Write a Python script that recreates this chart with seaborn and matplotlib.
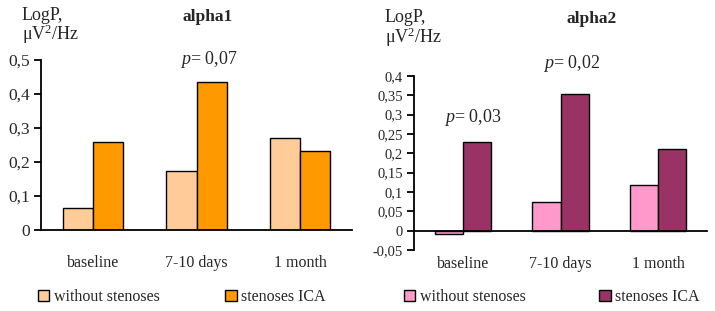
import matplotlib.pyplot as plt
import pandas as pd
import seaborn as sns
from matplotlib.patches import Patch
from matplotlib.ticker import FuncFormatter, MultipleLocator, FixedLocator

# Data
periods = ["baseline", "7-10 days", "1 month"]
groups = ["without stenoses", "stenoses ICA"]

alpha1_without = [0.066, 0.175, 0.27]
alpha1_ica = [0.258, 0.436, 0.232]
alpha2_without = [-0.009, 0.075, 0.118]
alpha2_ica = [0.23, 0.353, 0.21]

colors1 = ["#FFCC99", "#FF9900"]
colors2 = ["#FF99CC", "#993366"]


def long_df(without, ica):
    return pd.DataFrame({
        "period": periods * 2,
        "group": [groups[0]] * 3 + [groups[1]] * 3,
        "value": without + ica,
    })


sns.set_style("white")
plt.rcParams["font.family"] = ["Liberation Serif", "DejaVu Serif"]
plt.rcParams["mathtext.fontset"] = "custom"
plt.rcParams["mathtext.rm"] = "Liberation Serif"
plt.rcParams["mathtext.it"] = "Liberation Serif:italic"


def comma(x, p):
    s = f"{x:.2f}".rstrip("0").rstrip(".")
    if s in ("-0", "0"):
        s = "0"
    return s.replace(".", ",")


fig = plt.figure(figsize=(7.15, 3.11), dpi=100)
ax1 = fig.add_axes([41 / 715, 1 - 230 / 311, 311 / 715, 170 / 311])
ax2 = fig.add_axes([414 / 715, 1 - 250 / 311, 293 / 715, 174 / 311])

panels = [
    (ax1, long_df(alpha1_without, alpha1_ica), colors1, (0, 0.5), 0.1, 12.5),
    (ax2, long_df(alpha2_without, alpha2_ica), colors2, (-0.05, 0.4), 0.05, 10.5),
]

for ax, df, colors, ylim, step, yfs in panels:
    sns.barplot(df, x="period", y="value", hue="group", palette=colors,
                width=0.58, edgecolor="black", linewidth=1, ax=ax,
                legend=False, saturation=1)
    ax.set_xlim(-0.5, 2.5)
    ax.set_ylim(*ylim)
    ax.yaxis.set_major_locator(MultipleLocator(step))
    ax.yaxis.set_major_formatter(FuncFormatter(comma))
    ax.set_xlabel(None)
    ax.set_ylabel(None)
    for s in ["top", "right"]:
        ax.spines[s].set_visible(False)
    for s in ["left", "bottom"]:
        ax.spines[s].set_color("black")
        ax.spines[s].set_linewidth(1.3)
    ax.spines["bottom"].set_position(("data", 0))
    ax.xaxis.set_minor_locator(FixedLocator([-0.5, 0.5, 1.5, 2.5]))
    ax.tick_params(axis="x", which="major", length=0, pad=18, labelsize=11.5)
    ax.tick_params(axis="x", which="minor", length=5, width=1.3, direction="out", color="black")
    ax.tick_params(axis="y", length=5, width=1.3, direction="out", color="black",
                   labelsize=yfs, pad=3, left=True)
    handles = [Patch(facecolor=c, edgecolor="black", linewidth=1) for c in colors]
    ax.legend(handles, groups, loc="lower left", ncol=2, frameon=False,
              handlelength=0.7, handleheight=0.7, handletextpad=0.3,
              borderpad=0, borderaxespad=0, fontsize=11.5,
              columnspacing=4.1 if ax is ax1 else 4.6,
              bbox_to_anchor=(38 / 715 if ax is ax1 else 404 / 715, 1 - 305 / 311),
              bbox_transform=fig.transFigure)

# Annotations
fig.text(22 / 715, 1 - 15 / 311, "LogP,", fontsize=13, va="center", ha="left")
fig.text(22 / 715, 1 - 34 / 311, r"μV$^2$/Hz", fontsize=13, va="center", ha="left")
fig.text(385 / 715, 1 - 17 / 311, "LogP,", fontsize=13, va="center", ha="left")
fig.text(385 / 715, 1 - 37 / 311, r"μV$^2$/Hz", fontsize=13, va="center", ha="left")

fig.text(208 / 715, 1 - 17 / 311, "alpha1", fontsize=12.5, fontweight="bold", ha="center", va="center")
fig.text(592 / 715, 1 - 19 / 311, "alpha2", fontsize=12.5, fontweight="bold", ha="center", va="center")

fig.text(209 / 715, 1 - 60 / 311, r"$\mathit{p}$= 0,07", fontsize=13, ha="center", va="center")
fig.text(572 / 715, 1 - 63 / 311, r"$\mathit{p}$= 0,02", fontsize=13, ha="center", va="center")
fig.text(473 / 715, 1 - 118 / 311, r"$\mathit{p}$= 0,03", fontsize=13, ha="center", va="center")

plt.savefig("out.png", dpi=100)
